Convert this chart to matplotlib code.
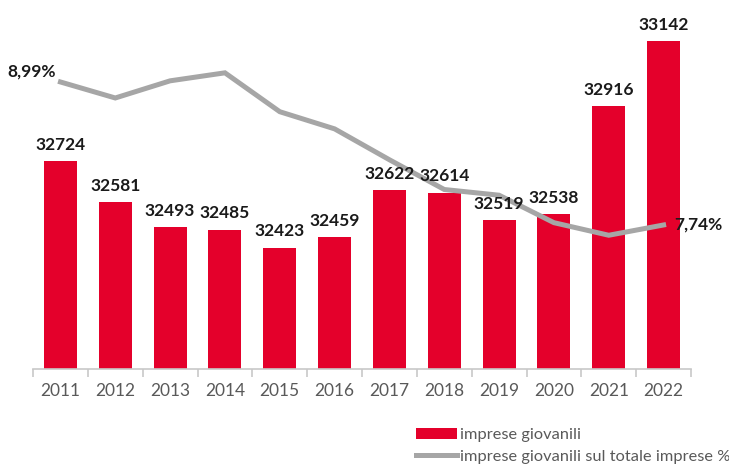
import matplotlib.pyplot as plt
import numpy as np

anni = ['2011', '2012', '2013', '2014', '2015', '2016',
        '2017', '2018', '2019', '2020', '2021', '2022']
imprese_giovanili = [32724, 32581, 32493, 32485, 32423, 32459,
                     32622, 32614, 32519, 32538, 32916, 33142]
quota_giovanili = [8.99, 8.85, 9.00, 9.07, 8.73, 8.58,
                   8.31, 8.05, 8.00, 7.76, 7.65, 7.74]

ROSSO = '#e4002b'
GRIGIO = '#a6a6a6'
TESTO = '#595959'

plt.rcParams['font.family'] = ['Lato', 'DejaVu Sans']

fig = plt.figure(figsize=(7.29, 4.66), dpi=100)
ax = fig.add_axes([0.0453, 0.2082, 0.9026, 0.7703])
x = np.arange(len(anni))

barre = ax.bar(x, imprese_giovanili, width=0.6, color=ROSSO,
               label='imprese giovanili', zorder=2)
ax.set_ylim(32000, 33250)
ax.set_xlim(-0.5, len(anni) - 0.5)

# secondary axis for the percentage line
ax2 = ax.twinx()
linea, = ax2.plot(x, quota_giovanili, color=GRIGIO, lw=3.6,
                  solid_joinstyle='miter',
                  label='imprese giovanili sul totale imprese %', zorder=3)
ax2.set_ylim(6.481, 9.619)

# bar values drawn on the top axes so they sit above the line
for xi, v in zip(x, imprese_giovanili):
    ax2.annotate(str(v), (xi, v), xycoords=ax.transData,
                 xytext=(0, 6), textcoords='offset points',
                 ha='center', va='bottom', fontsize=12.5, fontweight='bold',
                 color='#1a1a1a', zorder=5)

ax2.annotate('8,99%', (x[0], quota_giovanili[0]), xytext=(-3, 2),
             textcoords='offset points', ha='right', va='bottom',
             fontsize=12.5, fontweight='bold', color='#1a1a1a')
ax2.annotate('7,74%', (x[-1], quota_giovanili[-1]), xytext=(8, 0),
             textcoords='offset points', ha='left', va='center',
             fontsize=12.5, fontweight='bold', color='#1a1a1a')

for a in (ax, ax2):
    for s in ('top', 'left', 'right'):
        a.spines[s].set_visible(False)
    a.set_yticks([])
ax.spines['bottom'].set_color('#c8c8c8')
ax.spines['bottom'].set_linewidth(1.2)
ax2.spines['bottom'].set_visible(False)

# tick marks between categories, labels at category centres
ax.set_xticks(np.arange(-0.5, len(anni), 1.0))
ax.set_xticklabels([])
ax.tick_params(axis='x', which='major', length=6, width=1.2, color='#c8c8c8')
ax.set_xticks(x, minor=True)
ax.set_xticklabels(anni, minor=True, fontsize=12.5, color=TESTO)
ax.tick_params(axis='x', which='minor', length=0, pad=10)

fig.legend(handles=[barre, linea], loc='upper left',
           bbox_to_anchor=(409 / 729, 1 - 421 / 466), frameon=False,
           fontsize=11.8, labelcolor=TESTO, handlelength=2.5,
           handletextpad=0.2, labelspacing=0.45, borderaxespad=0)

fig.savefig('out.png', dpi=100)
